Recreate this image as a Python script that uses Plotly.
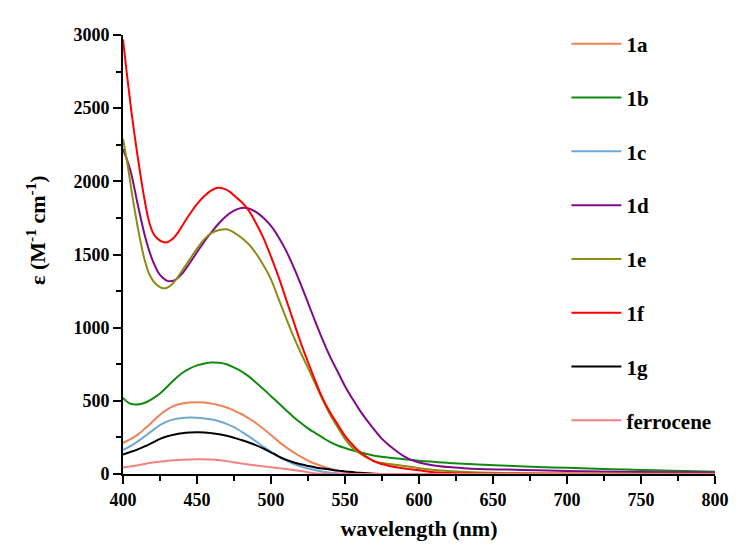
import plotly.graph_objects as go

# Absorption spectra: wavelength (nm) and molar absorptivity (M^-1 cm^-1)
wl_1a = [400, 405, 410, 415, 420, 425, 430, 435, 440, 445, 450, 455, 460, 465, 470, 475, 480, 485, 490, 495,
         500, 505, 510, 515, 520, 525, 530, 535, 540, 545, 550, 555, 560, 570, 600, 800]
eps_1a = [212, 238, 269, 312, 358, 405, 442, 468, 482, 489, 491, 489, 481, 470, 454, 433, 410, 380, 347, 308,
          266, 223, 184, 150, 119, 92, 70, 52, 37, 24, 14, 7, 3, 0, 0, 0]

wl_1b = [400, 404, 408, 412, 416, 420, 425, 430, 435, 440, 445, 450, 455, 460, 465, 470, 475, 480, 485, 490,
         495, 500, 505, 510, 515, 520, 525, 530, 535, 540, 545, 550, 560, 570, 585, 600, 620, 640, 660, 680,
         700, 720, 740, 760, 780, 800]
eps_1b = [520, 485, 475, 478, 492, 515, 550, 598, 648, 690, 720, 742, 755, 762, 760, 750, 728, 702, 667, 624,
          579, 532, 485, 438, 392, 350, 312, 280, 248, 218, 195, 178, 148, 125, 106, 90, 76, 65, 56, 48,
          42, 36, 30, 25, 20, 15]

wl_1c = [400, 405, 410, 415, 420, 425, 430, 435, 440, 445, 450, 455, 460, 465, 470, 475, 480, 485, 490, 495,
         500, 505, 510, 515, 520, 525, 530, 535, 540, 550, 560, 800]
eps_1c = [165, 190, 223, 260, 298, 335, 360, 375, 383, 386, 385, 380, 372, 360, 343, 320, 290, 257, 222, 185,
          152, 121, 93, 70, 52, 37, 25, 15, 8, 2, 0, 0]

wl_1d = [400, 405, 410, 415, 420, 425, 430, 435, 440, 445, 450, 455, 460, 465, 470, 475, 480, 485, 490, 495,
         500, 505, 510, 515, 520, 525, 530, 535, 540, 545, 550, 555, 560, 565, 570, 575, 580, 585, 590, 595,
         600, 610, 620, 630, 640, 660, 680, 700, 750, 800]
eps_1d = [2222, 2074, 1840, 1620, 1460, 1360, 1320, 1325, 1370, 1440, 1515, 1590, 1655, 1715, 1765, 1800, 1818,
          1815, 1790, 1750, 1695, 1620, 1530, 1420, 1300, 1170, 1040, 915, 800, 700, 600, 515, 435, 365, 300,
          240, 195, 155, 120, 95, 78, 58, 47, 40, 35, 30, 25, 20, 14, 10]

wl_1e = [400, 403, 406, 409, 412, 415, 418, 422, 426, 429, 433, 437, 441, 445, 450, 455, 460, 465, 470, 475,
         480, 485, 490, 495, 500, 505, 510, 515, 520, 525, 530, 535, 540, 545, 550, 555, 560, 565, 570, 575,
         580, 590, 600, 620, 650, 700, 800]
eps_1e = [2290, 2120, 1920, 1740, 1580, 1450, 1360, 1300, 1272, 1270, 1295, 1345, 1405, 1465, 1540, 1605, 1648,
          1667, 1672, 1650, 1615, 1570, 1505, 1425, 1330, 1200, 1070, 945, 830, 725, 615, 505, 405, 320, 240,
          180, 140, 110, 88, 75, 68, 55, 40, 20, 8, 3, 2]

wl_1f = [400, 403, 406, 409, 412, 415, 418, 421, 425, 429, 433, 437, 441, 445, 450, 455, 460, 464, 468, 472,
         476, 480, 485, 490, 495, 500, 505, 510, 515, 520, 525, 530, 535, 540, 545, 550, 555, 560, 565, 570,
         575, 580, 590, 600, 610, 625, 650, 700, 800]
eps_1f = [2970, 2700, 2450, 2230, 2030, 1850, 1710, 1635, 1595, 1582, 1602, 1648, 1712, 1775, 1845, 1900, 1940,
          1956, 1950, 1930, 1895, 1860, 1800, 1712, 1610, 1485, 1350, 1200, 1050, 900, 765, 635, 515, 420, 340,
          260, 200, 150, 115, 85, 68, 55, 38, 25, 12, 5, 2, 1, 0]

wl_1g = [400, 405, 410, 415, 420, 425, 430, 435, 440, 445, 450, 455, 460, 465, 470, 475, 480, 485, 490, 495,
         500, 505, 510, 515, 520, 525, 530, 535, 540, 545, 550, 560, 570, 580, 800]
eps_1g = [133, 150, 168, 190, 215, 240, 258, 270, 278, 283, 285, 284, 279, 272, 262, 248, 232, 215, 196, 174,
          148, 121, 98, 80, 66, 55, 45, 37, 30, 23, 18, 8, 2, 0, 0]

wl_fc = [400, 410, 420, 430, 440, 450, 460, 470, 480, 490, 500, 510, 520, 525, 530, 535, 540, 800]
eps_fc = [45, 60, 78, 90, 98, 101, 99, 88, 72, 58, 46, 34, 20, 12, 4, 1, 0, 0]

names = ["1a", "1b", "1c", "1d", "1e", "1f", "1g", "ferrocene"]
colors = ["#EE8258", "#108A10", "#6FA8D2", "#800A8A", "#8C8C14", "#FF0000", "#000000", "#F08282"]
series = [(wl_1a, eps_1a), (wl_1b, eps_1b), (wl_1c, eps_1c), (wl_1d, eps_1d),
          (wl_1e, eps_1e), (wl_1f, eps_1f), (wl_1g, eps_1g), (wl_fc, eps_fc)]

SERIF = "Liberation Serif"

fig = go.Figure()
for name, color, (wl, eps) in zip(names, colors, series):
    fig.add_trace(go.Scatter(
        x=wl, y=eps, name=name, mode="lines", legendgroup=name,
        line=dict(color=color, width=2, shape="spline", smoothing=1.0),
    ))

axis_common = dict(
    showline=True, linecolor="black", linewidth=2, mirror=False,
    showgrid=False, zeroline=False,
    ticks="outside", ticklen=8, tickwidth=2, tickcolor="black",
    tickfont=dict(family=SERIF, size=18, color="black", weight="bold"),
)

fig.update_xaxes(
    range=[400, 800], dtick=50, tick0=400,
    minor=dict(dtick=25, ticks="outside", ticklen=5, tickwidth=2, tickcolor="black"),
    title=dict(text="wavelength (nm)", font=dict(family=SERIF, size=22, color="black", weight="bold"),
               standoff=12),
    **axis_common,
)
fig.update_yaxes(
    range=[0, 3000], dtick=500, tick0=0,
    minor=dict(dtick=250, ticks="outside", ticklen=5, tickwidth=2, tickcolor="black"),
    **axis_common,
)

# y-axis title placed as a rotated annotation (sits above the axis midpoint)
fig.add_annotation(
    text="ε (M<sup>-1</sup> cm<sup>-1</sup>)",
    xref="paper", yref="paper", x=-0.147, y=0.556,
    xanchor="center", yanchor="middle", textangle=-90, showarrow=False,
    font=dict(family=SERIF, size=22, color="black", weight="bold"),
)

fig.update_layout(
    width=741, height=550,
    margin=dict(l=123, r=21, t=35, b=76),
    paper_bgcolor="white", plot_bgcolor="white",
    showlegend=True,
    legend=dict(
        x=0.749, y=1.026, xanchor="left", yanchor="top",
        bgcolor="rgba(0,0,0,0)", borderwidth=0,
        font=dict(family=SERIF, size=21, color="black", weight="bold"),
        tracegroupgap=23.5, itemwidth=50, maxheight=540,
    ),
)

fig.write_html("out.html")
